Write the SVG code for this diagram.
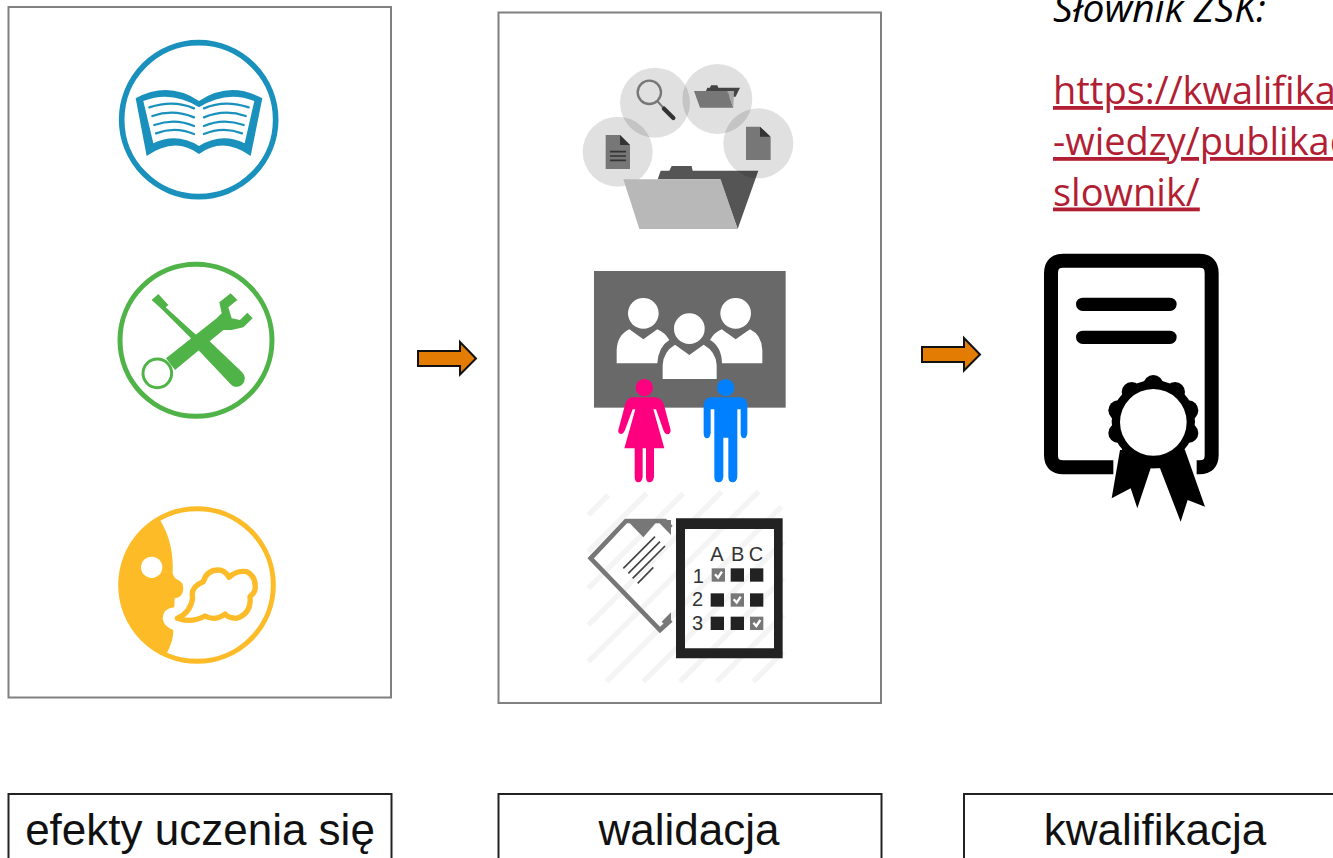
<svg xmlns="http://www.w3.org/2000/svg" width="1333" height="858" viewBox="0 0 1333 858">
<style>
.panel{fill:#fff;stroke:#808080;stroke-width:2}
.label{fill:#fff;stroke:#222;stroke-width:2}
.labeltext{font-family:"Liberation Sans",Arial,sans-serif;font-size:44px;fill:#111;text-anchor:middle}
.arrow{fill:#e37c03;stroke:#111;stroke-width:2}
.note{font-family:"Open Sans","Noto Sans",sans-serif;font-size:38px}
.link{fill:#b21f35;text-decoration:underline}
.bl{fill:none;stroke:#1a91bd;stroke-width:7;stroke-linecap:round}
.tt{font-family:"Liberation Sans",Arial,sans-serif;font-size:60px;fill:#333}
.dk{fill:#222}
.ck{fill:#777}
.tick{fill:none;stroke:#fff;stroke-width:7}
</style>
<rect width="1333" height="858" fill="#fff"/>
<g id="panel-efekty"><rect class="panel" x="8.5" y="7" width="382.5" height="690.5"/></g>
<g id="panel-walidacja"><rect class="panel" x="498.5" y="12.5" width="382.5" height="690.5"/></g>

<g id="icon-wiedza" transform="translate(100,30) scale(.33333)">
<circle cx="296" cy="269" r="231" fill="none" stroke="#1a91bd" stroke-width="17"/>
<path fill="#1a91bd" d="M107 205Q205 152 297 213Q390 152 487 205L452 378Q370 318 297 372Q225 318 140 378Z"/>
<path fill="#fff" d="M130 213Q215 180 297 232Q380 180 463 213L434 340Q365 306 297 348Q230 306 160 340Z"/>
<path class="bl" d="M148 232Q220 208 282 235M157 258Q220 236 282 262M163 285Q225 263 282 288M168 310Q225 288 282 312M446 232Q374 208 312 235M437 258Q374 236 312 262M431 285Q369 263 312 288M426 310Q369 288 312 312"/>
</g>

<g id="icon-umiejetnosci" transform="translate(100,250) scale(.33333)">
<circle cx="288" cy="271" r="228" fill="none" stroke="#4fb348" stroke-width="15"/>
<path fill="#4fb348" d="M155 150L175 132L205 165L197 172L292 258L325 270L425 365Q445 385 425 405Q405 420 385 395L295 300L270 262L187 179Z"/>
<path fill="#4fb348" d="M198 325L350 205L365 190L358 157L392 130L412 150L385 172L395 205L420 210L442 188L458 205L430 232L395 240L370 240L225 360Z"/>
<circle cx="172" cy="370" r="43" fill="#fff" stroke="#4fb348" stroke-width="9"/>
</g>

<g id="icon-komunikacja" transform="translate(100,490) scale(.33333)">
<circle cx="291" cy="285" r="229" fill="none" stroke="#fdbb28" stroke-width="15"/>
<path fill="#fdbb28" d="M176 83L183 95Q222 160 218 250Q222 264 230 268Q250 275 250 296Q248 322 224 325L223 352Q190 355 188 385Q190 410 220 420Q222 450 197 497A232 232 0 0 1 176 83Z"/>
<circle cx="155" cy="232" r="32" fill="#fff"/>
<path fill="none" stroke="#fdbb28" stroke-width="16" stroke-linejoin="round" d="M232 385Q270 370 278 325Q270 290 310 275Q320 240 355 240Q375 240 387 262Q410 240 440 245Q470 260 465 300Q462 310 450 320Q455 370 410 385Q385 385 375 372Q345 395 315 378Q275 400 232 385Z"/>
</g>

<g id="icon-portfolio" transform="translate(570,50) scale(.33333)">
<circle cx="143" cy="305" r="105" fill="#000" fill-opacity=".12"/>
<path fill="#555" d="M263 388L272 362H298L305 348H365L368 362H565L503 537L450 388Z"/>
<path fill="#b8b8b8" d="M160 388H452L503 537H208Z"/>
<circle cx="255" cy="158" r="105" fill="#000" fill-opacity=".12"/>
<circle cx="442" cy="147" r="105" fill="#000" fill-opacity=".12"/>
<circle cx="565" cy="280" r="105" fill="#000" fill-opacity=".12"/>
<circle cx="238" cy="127" r="35" fill="none" stroke="#777" stroke-width="7"/>
<path stroke="#777" stroke-width="6" d="M262 153L282 176"/>
<path stroke="#333" stroke-width="13" stroke-linecap="round" d="M282 176L310 204"/>
<path fill="#777" d="M107 255H150L180 285V357H107Z"/>
<path fill="#333" d="M150 255L180 285H150Z"/>
<path stroke="#333" stroke-width="5" d="M120 305H168M120 318H168M120 331H168"/>
<path fill="#777" d="M528 230H570L602 262V330H528Z"/>
<path fill="#333" d="M570 230L602 260H570Z"/>
<path fill="#444" d="M408 123L412 113H420L423 106H442L445 113H510L497 140H475L472 123Z"/>
<path fill="#777" d="M372 123H472L490 173H390Z"/>
<path fill="#a8a8a8" d="M472 123H492L490 173Z"/>
</g>

<g id="icon-rozmowa" transform="translate(580,260) scale(.33333)">
<rect x="42" y="33" width="575" height="410" fill="#696969"/>
<g fill="#fff">
<circle cx="190" cy="160" r="46"/>
<path d="M110 310V270Q112 225 148 208L190 238L232 208Q255 218 268 240Q235 260 232 310Z"/>
<circle cx="467" cy="160" r="46"/>
<path d="M547 310V270Q545 225 510 208L467 238L425 208Q402 218 390 240Q425 260 426 310Z"/>
<circle cx="328" cy="206" r="46"/>
<path d="M248 357V315Q250 275 285 254L328 285L371 254Q408 275 410 315V357Z"/>
</g>
<circle cx="193" cy="383" r="26" fill="#fe007f"/>
<path fill="#fe007f" d="M158 412H222Q245 412 252 435L272 510Q272 522 262 523Q254 522 250 510L228 448H220L253 565H222V650Q220 667 208 667Q198 667 198 650V565H188V650Q186 667 175 667Q164 667 164 650V565H133L166 448H158L135 510Q130 522 123 522Q113 520 115 510L135 435Q142 412 158 412Z"/>
<circle cx="437" cy="383" r="26" fill="#0080fe"/>
<path fill="#0080fe" d="M395 412H480Q502 412 502 440V520Q500 535 492 535Q482 535 482 520V448H472V650Q470 667 458 667Q445 667 445 650V533H430V650Q428 667 416 667Q403 667 403 650V448H392V520Q390 535 381 535Q371 535 371 520V440Q371 412 395 412Z"/>
</g>

<g id="icon-test" transform="translate(570,485) scale(.33333)">
<path stroke="#f4f4f4" stroke-width="16" fill="none" d="M55 90L115 30M55 200L230 25M55 310L340 25M55 420L455 20M55 530L565 20M110 590L635 65M220 590L640 170M330 590L640 280M440 590L640 390M550 590L640 500"/>
<path fill="none" stroke="#777" stroke-width="14" d="M303 405L270 435L62 220L168 108H285L303 128"/>
<path fill="#777" d="M170 105L220 157L262 108L303 150V105Z"/>
<path fill="#777" d="M303 382L275 410L290 425L303 412Z"/>
<path stroke="#444" stroke-width="5" d="M160 250L255 155M175 265L270 170M188 280L285 183M203 295L250 247"/>
<path fill="#222" fill-rule="evenodd" d="M318 100H638V520H318ZM345 132V490H612V132Z"/>
<text class="tt" x="421" y="228">A</text><text class="tt" x="483" y="228">B</text><text class="tt" x="536" y="228">C</text>
<text class="tt" x="368" y="295">1</text><text class="tt" x="366" y="364">2</text><text class="tt" x="366" y="434">3</text>
<rect class="ck" x="425" y="250" width="40" height="40"/><path class="tick" d="M435 268L444 278L456 260"/>
<rect class="dk" x="482" y="250" width="40" height="40"/><rect class="dk" x="540" y="250" width="40" height="40"/>
<rect class="dk" x="422" y="325" width="40" height="40"/><rect class="ck" x="482" y="325" width="40" height="40"/><path class="tick" d="M491 343L500 353L512 335"/><rect class="dk" x="540" y="325" width="40" height="40"/>
<rect class="dk" x="422" y="395" width="40" height="40"/><rect class="dk" x="482" y="395" width="40" height="40"/><rect class="ck" x="540" y="395" width="40" height="40"/><path class="tick" d="M550 413L559 423L571 405"/>
</g>

<g id="icon-kwalifikacja" transform="translate(1020,240) scale(.33333)">
<path fill="none" stroke="#000" stroke-width="42" d="M280 682H130Q93 682 93 645V100Q93 62 130 62H538Q575 62 575 100V645Q575 682 538 682H530"/>
<path stroke="#000" stroke-width="40" stroke-linecap="round" d="M188 193H450M188 292H450"/>
<path d="M300 630L275 775L332 745L352 805L392 685H420L482 845L503 780L555 800L495 630Z"/>
<g>
<circle cx="400" cy="545" r="125"/>
<circle cx="400" cy="435" r="30"/><circle cx="465" cy="456" r="30"/><circle cx="505" cy="511" r="30"/><circle cx="505" cy="579" r="30"/><circle cx="465" cy="634" r="30"/><circle cx="335" cy="634" r="30"/><circle cx="295" cy="579" r="30"/><circle cx="295" cy="511" r="30"/><circle cx="335" cy="456" r="30"/><circle cx="400" cy="655" r="30"/>
</g>
<circle cx="400" cy="547" r="100" fill="#fff"/>
</g>

<g id="note">
<text class="note" x="1053" y="21.5" font-style="italic" fill="#000" style="font-size:39px">Słownik ZSK:</text>
<text class="note link" x="1053" y="104">https://kwalifika</text>
<text class="note link" x="1053" y="155">-wiedzy/publikac</text>
<text class="note link" x="1053" y="205.5">slownik/</text>
</g>

<g id="connectors">
<path class="arrow" d="M418 351H460V342L476 358.500L460 374.500V366H418Z"/>
<path class="arrow" d="M922 347H964V338L980 354.500L964 370.500V362H922Z"/>
</g>

<g id="label-efekty"><rect class="label" x="8.500" y="794" width="383" height="100"/><text class="labeltext" x="200" y="845">efekty uczenia się</text></g>
<g id="label-walidacja"><rect class="label" x="498.500" y="794" width="383" height="100"/><text class="labeltext" x="689" y="845">walidacja</text></g>
<g id="label-kwalifikacja"><rect class="label" x="964" y="794" width="400" height="100"/><text class="labeltext" x="1155" y="845">kwalifikacja</text></g>
</svg>
